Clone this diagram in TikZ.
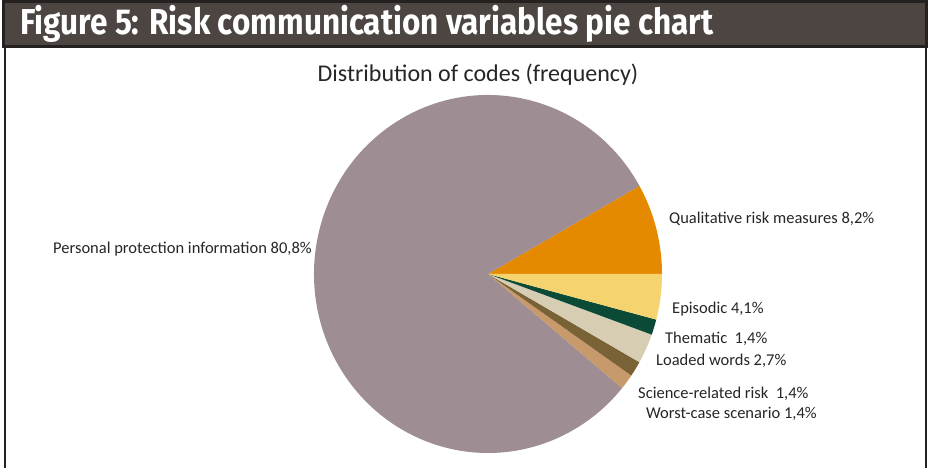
\documentclass[tikz,border=0pt]{standalone}
\usepackage{fontspec}
\setmainfont{Carlito}
\newfontfamily\titlefont{Fira Sans}
\usepackage{tikz}

\definecolor{barfill}{HTML}{4D4542}
\definecolor{barline}{HTML}{252121}
\definecolor{personal}{HTML}{9E8E94}
\definecolor{qualit}{HTML}{E58A00}
\definecolor{episod}{HTML}{F5D36E}
\definecolor{themat}{HTML}{0B4A37}
\definecolor{loaded}{HTML}{D7CDB3}
\definecolor{science}{HTML}{7A6237}
\definecolor{worst}{HTML}{C8996A}

\tikzset{
    lbl/.style={anchor=west, inner sep=0pt, text=black!85, font=\fontsize{16.5}{18}\selectfont},
}

\begin{document}
\begin{tikzpicture}[x=1pt,y=1pt]
    \useasboundingbox (0,0) rectangle (928,468);
    \fill [white] (0,0) rectangle (928,468);

    % frame and title bar
    \draw [barline, line width=2.5] (5,0) -- (5,440);
    \draw [barline, line width=2.5] (926,0) -- (926,440);
    \draw [barline, fill=barfill, line width=3] (3,466.5) rectangle (926,421);
    \node (title) [anchor=west, text=white, inner sep=0pt,
        font=\titlefont\bfseries\fontsize{36}{40}\selectfont]
        at (20,444) {\scalebox{0.875}[1]{Figure 5: Risk communication variables pie chart}};

    \node (sub) [inner sep=0pt, text=black!85, font=\fontsize{24}{28}\selectfont] at (478,393)
        {Distribution of codes (frequency)};

    % pie, elliptical
    \begin{scope}[shift={(488,194)}]
    \coordinate (c) at (0,0);
    \foreach \a/\b/\col in {0/29.52/qualit, 29.52/320.4/personal,
        320.4/325.44/worst, 325.44/330.48/science, 330.48/340.2/loaded,
        340.2/345.24/themat, 345.24/360/episod}{%
        \fill [\col] (c) -- (\a:174 and 179)
            arc [start angle=\a, end angle=\b, x radius=174, y radius=179] -- cycle;}
    \end{scope}

    \node (lpers) [lbl] at (53,219) {Personal protection information 80,8\%};
    \node (lqual) [lbl] at (669,249) {Qualitative risk measures 8,2\%};
    \node (lepis) [lbl] at (672,159) {Episodic 4,1\%};
    \node (lthem) [lbl] at (665,129) {Thematic\ \ 1,4\%};
    \node (lload) [lbl] at (656,107) {Loaded words 2,7\%};
    \node (lsci)  [lbl] at (638,74)  {Science-related risk\ \ 1,4\%};
    \node (lwor)  [lbl] at (646,54)  {Worst-case scenario 1,4\%};
\end{tikzpicture}
\end{document}
